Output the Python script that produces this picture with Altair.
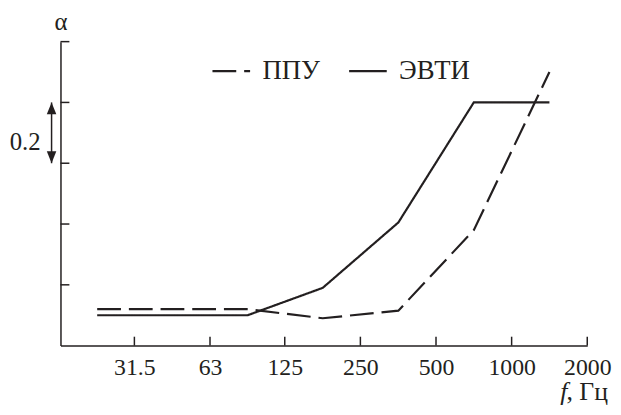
import altair as alt
import pandas as pd

# ---- data ----
freqs = [22.4, 44.5, 89, 177, 354, 707, 1414]
ppu = [0.12, 0.12, 0.12, 0.09, 0.115, 0.38, 0.90]
evti = [0.10, 0.10, 0.10, 0.19, 0.405, 0.80, 0.80]
series_names = ["ППУ", "ЭВТИ"]
x_ticks = [31.5, 63, 125, 250, 500, 1000, 2000]
y_ticks = [0.2, 0.4, 0.6, 0.8, 1.0]
arrow_lo, arrow_hi = [0.6], [0.8]

W, H = 532, 307
FONT = "Liberation Serif"
INK = "#231f20"

df = pd.DataFrame({
    "f": freqs + freqs,
    "alpha": ppu + evti,
    "series": [series_names[0]] * len(freqs) + [series_names[1]] * len(freqs),
})

xscale = alt.Scale(type="log", domain=[16, 2000], nice=False)
yscale = alt.Scale(domain=[0, 1], nice=False)

x_axis = alt.Axis(values=x_ticks, labelExpr="datum.value + ''", ticks=False,
                  grid=False, title=None, labelPadding=10,
                  labelFont=FONT, labelFontSize=24,
                  labelFlush=False, labelOverlap=False)
y_axis = alt.Axis(values=y_ticks, labels=False, ticks=False, grid=False,
                  title="α", titleAngle=0, titleX=0, titleY=-20,
                  titleAlign="center", titleBaseline="middle",
                  titleFont=FONT, titleFontSize=25)

lines = alt.Chart(df).mark_line(strokeWidth=2.2, color=INK).encode(
    x=alt.X("f:Q", scale=xscale, axis=x_axis),
    y=alt.Y("alpha:Q", scale=yscale, axis=y_axis),
    strokeDash=alt.StrokeDash("series:N", scale=alt.Scale(
        domain=series_names, range=[[24, 8], [1, 0]]),
        legend=alt.Legend(orient="none", legendX=152, legendY=9,
                          direction="horizontal", title=None,
                          labelFont=FONT, labelFontSize=27)),
)

ytick = alt.Chart(pd.DataFrame({"alpha": y_ticks})).mark_rule(
    color=INK, strokeWidth=1.5).encode(
    y=alt.Y("alpha:Q", scale=yscale, axis=y_axis), x=alt.value(0), x2=alt.value(9))

xtick = alt.Chart(pd.DataFrame({"f": x_ticks})).mark_rule(
    color=INK, strokeWidth=1.5).encode(
    x=alt.X("f:Q", scale=xscale, axis=x_axis), y=alt.value(H), y2=alt.value(H - 9))

arrow_df = pd.DataFrame({"alpha": arrow_lo, "alpha2": arrow_hi,
                         "mid": [(a + b) / 2 for a, b in zip(arrow_lo, arrow_hi)]})
shaft = alt.Chart(arrow_df).mark_rule(color=INK, strokeWidth=1.5).encode(
    y=alt.Y("alpha:Q", scale=yscale, axis=y_axis), y2="alpha2:Q", x=alt.value(-9))
head_up = alt.Chart(arrow_df).mark_point(
    shape="M0,-1L0.8,1L-0.8,1Z", filled=True, size=144, color=INK,
    opacity=1, yOffset=6).encode(
    y=alt.Y("alpha2:Q", scale=yscale, axis=y_axis, title="α"), x=alt.value(-9))
head_dn = alt.Chart(arrow_df).mark_point(
    shape="M0,1L0.8,-1L-0.8,-1Z", filled=True, size=144, color=INK,
    opacity=1, yOffset=-6).encode(
    y=alt.Y("alpha:Q", scale=yscale, axis=y_axis), x=alt.value(-9))
step_label = alt.Chart(arrow_df).mark_text(
    text="0.2", font=FONT, fontSize=25, align="right", baseline="middle",
    dy=9, color=INK).encode(
    y=alt.Y("mid:Q", scale=yscale, axis=y_axis, title="α"), x=alt.value(-20))

f_label = alt.Chart(arrow_df).mark_text(
    text="f", font=FONT, fontSize=26, fontStyle="italic", align="right",
    baseline="alphabetic", color=INK).encode(
    x=alt.value(W - 20), y=alt.value(H + 55))
unit_label = alt.Chart(arrow_df).mark_text(
    text=", Гц", font=FONT, fontSize=26, align="left",
    baseline="alphabetic", color=INK).encode(
    x=alt.value(W - 21), y=alt.value(H + 55))

chart = alt.layer(
    lines, ytick, xtick, shaft, head_up, head_dn, step_label, f_label, unit_label
).properties(
    width=W, height=H, background="white",
    autosize=alt.AutoSizeParams(type="none"),
    padding={"left": 53, "top": 32, "right": 26, "bottom": 58},
).configure(font=FONT).configure_view(stroke=None).configure_axis(
    labelFont=FONT, labelFontSize=24, labelColor=INK,
    titleFont=FONT, titleColor=INK, titleFontWeight="normal",
    domainColor=INK, domainWidth=1.5,
).configure_legend(
    symbolType="stroke", symbolSize=1444, symbolStrokeWidth=2.2,
    symbolStrokeColor=INK, labelFont=FONT, labelFontSize=27,
    labelColor=INK, labelOffset=11, columnPadding=24, padding=0,
)

chart.save("out.html", embed_options={"renderer": "svg", "actions": False})
